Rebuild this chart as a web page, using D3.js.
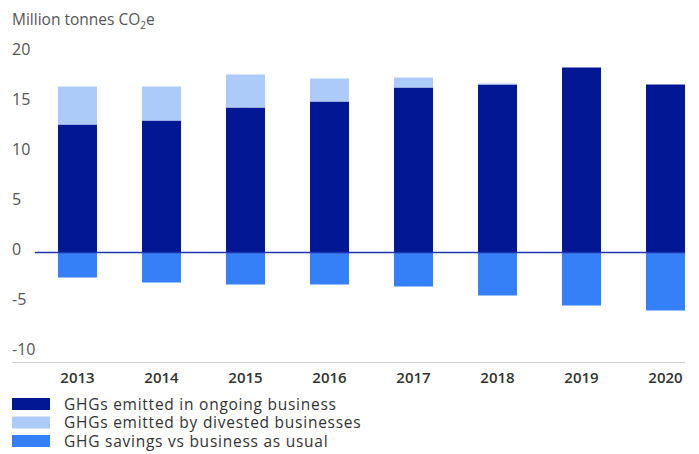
<!DOCTYPE html>
<html>
<head>
<meta charset="utf-8">
<script src="https://cdn.jsdelivr.net/npm/d3@7/dist/d3.min.js"></script>
<style>
  html, body { margin: 0; padding: 0; background: #fff; }
  svg { display: block; font-family: "Open Sans", Lato, sans-serif; }
</style>
</head>
<body>
<svg id="chart" width="699" height="454"></svg>
<script>
// GHG emissions by year, million tonnes CO2e
const years = ["2013", "2014", "2015", "2016", "2017", "2018", "2019", "2020"];
const ongoing = [12.8, 13.2, 14.5, 15.1, 16.5, 16.8, 18.5, 16.8];
const divested = [3.8, 3.4, 3.3, 2.3, 1.0, 0.1, 0, 0];
const savings = [-2.5, -3.0, -3.2, -3.2, -3.4, -4.3, -5.3, -5.8];
const yTicks = [20, 15, 10, 5, 0, -5, -10];

const legendItems = [
  { label: "GHGs emitted in ongoing business", color: "#021793" },
  { label: "GHGs emitted by divested businesses", color: "#adcbf9" },
  { label: "GHG savings vs business as usual", color: "#3580f6" }
];

const svg = d3.select("#chart");

const x = d3.scaleBand()
  .domain(years)
  .range([35.5, 707.5])
  .paddingInner(0.536)
  .paddingOuter(0.268);

const y = d3.scaleLinear()
  .domain([-10, 20])
  .range([352.5, 52.5]);

// Axis title
svg.append("text")
  .attr("x", 12)
  .attr("y", 25)
  .attr("fill", "#555")
  .attr("font-size", 15.5)
  .call(t => {
    t.append("tspan").text("Million tonnes CO");
    t.append("tspan").attr("font-size", 10).attr("dy", 4).text("2");
    t.append("tspan").attr("dy", -4).text("e");
  });

// Y tick labels
svg.append("g")
  .selectAll("text")
  .data(yTicks)
  .join("text")
  .attr("x", 12)
  .attr("y", d => y(d) + 2)
  .attr("fill", "#555")
  .attr("font-size", 16)
  .text(d => d < 0 ? "-" + Math.abs(d) : d);

// Bars
const barG = svg.append("g");
years.forEach((yr, i) => {
  barG.append("rect")
    .attr("x", x(yr)).attr("width", x.bandwidth())
    .attr("y", y(ongoing[i])).attr("height", y(0) - y(ongoing[i]))
    .attr("fill", legendItems[0].color);
  if (divested[i] > 0) {
    barG.append("rect")
      .attr("x", x(yr)).attr("width", x.bandwidth())
      .attr("y", y(ongoing[i] + divested[i]))
      .attr("height", y(ongoing[i]) - y(ongoing[i] + divested[i]))
      .attr("fill", legendItems[1].color);
  }
  barG.append("rect")
    .attr("x", x(yr)).attr("width", x.bandwidth())
    .attr("y", y(0)).attr("height", y(savings[i]) - y(0))
    .attr("fill", legendItems[2].color);
});

// Zero line
svg.append("line")
  .attr("x1", 35).attr("x2", x(years[years.length - 1]) + x.bandwidth())
  .attr("y1", y(0)).attr("y2", y(0))
  .attr("stroke", "#1f34b0").attr("stroke-width", 1.5);

// Bottom axis rule and year labels
svg.append("line")
  .attr("x1", 12).attr("x2", x(years[years.length - 1]) + x.bandwidth())
  .attr("y1", 362.5).attr("y2", 362.5)
  .attr("stroke", "#d0d0d0").attr("stroke-width", 1);

svg.append("g")
  .selectAll("text")
  .data(years)
  .join("text")
  .attr("x", d => x(d) + x.bandwidth() / 2)
  .attr("y", 383)
  .attr("text-anchor", "middle")
  .attr("fill", "#333")
  .attr("font-size", 15)
  .attr("font-weight", 600)
  .text(d => d);

// Legend
const lg = svg.append("g")
  .selectAll("g")
  .data(legendItems)
  .join("g")
  .attr("transform", (d, i) => `translate(12, ${398 + i * 18.5})`);
lg.append("rect").attr("width", 38).attr("height", 12).attr("fill", d => d.color);
lg.append("text")
  .attr("x", 52).attr("y", 11.5)
  .attr("fill", "#333").attr("font-size", 15.5)
  .attr("letter-spacing", 0.75)
  .text(d => d.label);
</script>
</body>
</html>
